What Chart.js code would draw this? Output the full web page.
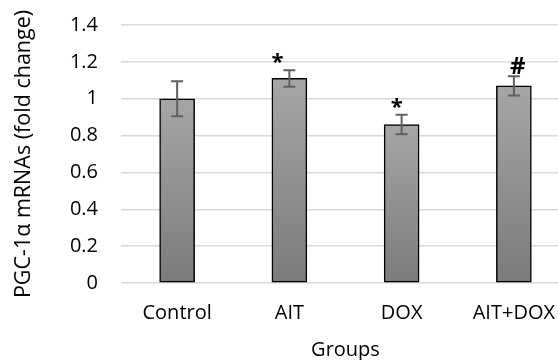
<!DOCTYPE html>
<html>
<head>
<meta charset="utf-8">
<script src="https://cdn.jsdelivr.net/npm/chart.js@4"></script>
<style>
  html, body { margin: 0; padding: 0; background: #fff; width: 558px; height: 360px; overflow: hidden; }
</style>
</head>
<body>
<canvas id="PgcChart" width="574" height="360"></canvas>
<script>
// chart data
const groups = ['Control', 'AIT', 'DOX', 'AIT+DOX'];
const fold_change = [1.0, 1.11, 0.86, 1.07];
const error_sd = [0.095, 0.045, 0.053, 0.052];
const marks = ['', '*', '*', '#'];
const y_ticks = [0, 0.2, 0.4, 0.6, 0.8, 1, 1.2, 1.4];

const font_name = '"Open Sans", "DejaVu Sans", sans-serif';

function bar_gradient(context){
    // vertical grey gradient for each bar, lighter at its top
    const chart = context.chart;
    if (!chart.chartArea || context.type !== 'data') {
        return '#939393';
    }
    const y = chart.scales.y;
    const top = y.getPixelForValue(context.parsed.y);
    const base = y.getPixelForValue(0);
    const g = chart.ctx.createLinearGradient(0, top, 0, base);
    g.addColorStop(0, '#a6a6a6');
    g.addColorStop(1, '#7b7b7b');
    return g;
}

const errorBars = {
    id: 'errorBars',
    afterDatasetsDraw(chart, args, opts){
        const ctx = chart.ctx;
        const meta = chart.getDatasetMeta(0);
        const y = chart.scales.y;
        ctx.save();
        meta.data.forEach((bar, i) => {
            const hi = y.getPixelForValue(fold_change[i] + error_sd[i]);
            const lo = y.getPixelForValue(fold_change[i] - error_sd[i]);
            ctx.strokeStyle = '#606060';
            ctx.lineWidth = 2;
            ctx.beginPath();
            ctx.moveTo(bar.x, hi);
            ctx.lineTo(bar.x, lo);
            ctx.moveTo(bar.x - 6, hi);
            ctx.lineTo(bar.x + 6, hi);
            ctx.moveTo(bar.x - 6, lo);
            ctx.lineTo(bar.x + 6, lo);
            ctx.stroke();

            if (marks[i]) {
                const star = marks[i] === '*';
                ctx.fillStyle = '#000';
                ctx.font = star ? 'bold 22px ' + font_name : 'bold 24px ' + font_name;
                ctx.textAlign = 'center';
                ctx.textBaseline = 'alphabetic';
                ctx.fillText(marks[i], bar.x + opts.shift[i], hi - (star ? 1 : 2));
            }
        });
        ctx.restore();
    }
};

const ctx = document.getElementById('PgcChart').getContext('2d');
const chart = new Chart(ctx, {
    type: 'bar',
    data: {
        labels: groups,
        datasets: [{
            data: fold_change,
            backgroundColor: bar_gradient,
            borderColor: '#000',
            borderWidth: 1.5,
            borderSkipped: false,
            barThickness: 35
        }]
    },
    options: {
        responsive: false,
        animation: false,
        layout: { padding: { left: 0, right: 4, top: 25, bottom: 0 } },
        plugins: {
            legend: { display: false },
            tooltip: { enabled: false },
            errorBars: { shift: [0, -12, -5, 4] }
        },
        scales: {
            x: {
                grid: { display: false, drawTicks: false },
                border: { display: false },
                ticks: {
                    color: '#000',
                    padding: 18,
                    font: { family: font_name, size: 20 }
                },
                title: {
                    display: true,
                    text: 'Groups',
                    color: '#000',
                    padding: { top: 0, bottom: 0 },
                    font: { family: font_name, size: 20, lineHeight: 1 }
                },
                afterFit(scale){
                    scale.height = 77;
                    scale.paddingLeft = 0;
                    scale.paddingRight = 0;
                }
            },
            y: {
                min: 0,
                max: 1.4,
                afterBuildTicks(scale){
                    scale.ticks = y_ticks.map(v => ({ value: v }));
                },
                grid: { color: '#d9d9d9', lineWidth: 1.5, drawTicks: false },
                border: { display: false },
                ticks: {
                    color: '#000',
                    padding: 23,
                    font: { family: font_name, size: 20 },
                    callback: v => String(+v.toFixed(1))
                },
                title: {
                    display: true,
                    text: 'PGC-1α mRNAs (fold change)',
                    color: '#000',
                    padding: { top: 13, bottom: 0 },
                    font: { family: font_name, size: 21.5, lineHeight: 1 }
                },
                afterFit(scale){
                    scale.width = 121;
                    scale.paddingTop = 0;
                    scale.paddingBottom = 0;
                }
            }
        }
    },
    plugins: [errorBars]
});
</script>
</body>
</html>
